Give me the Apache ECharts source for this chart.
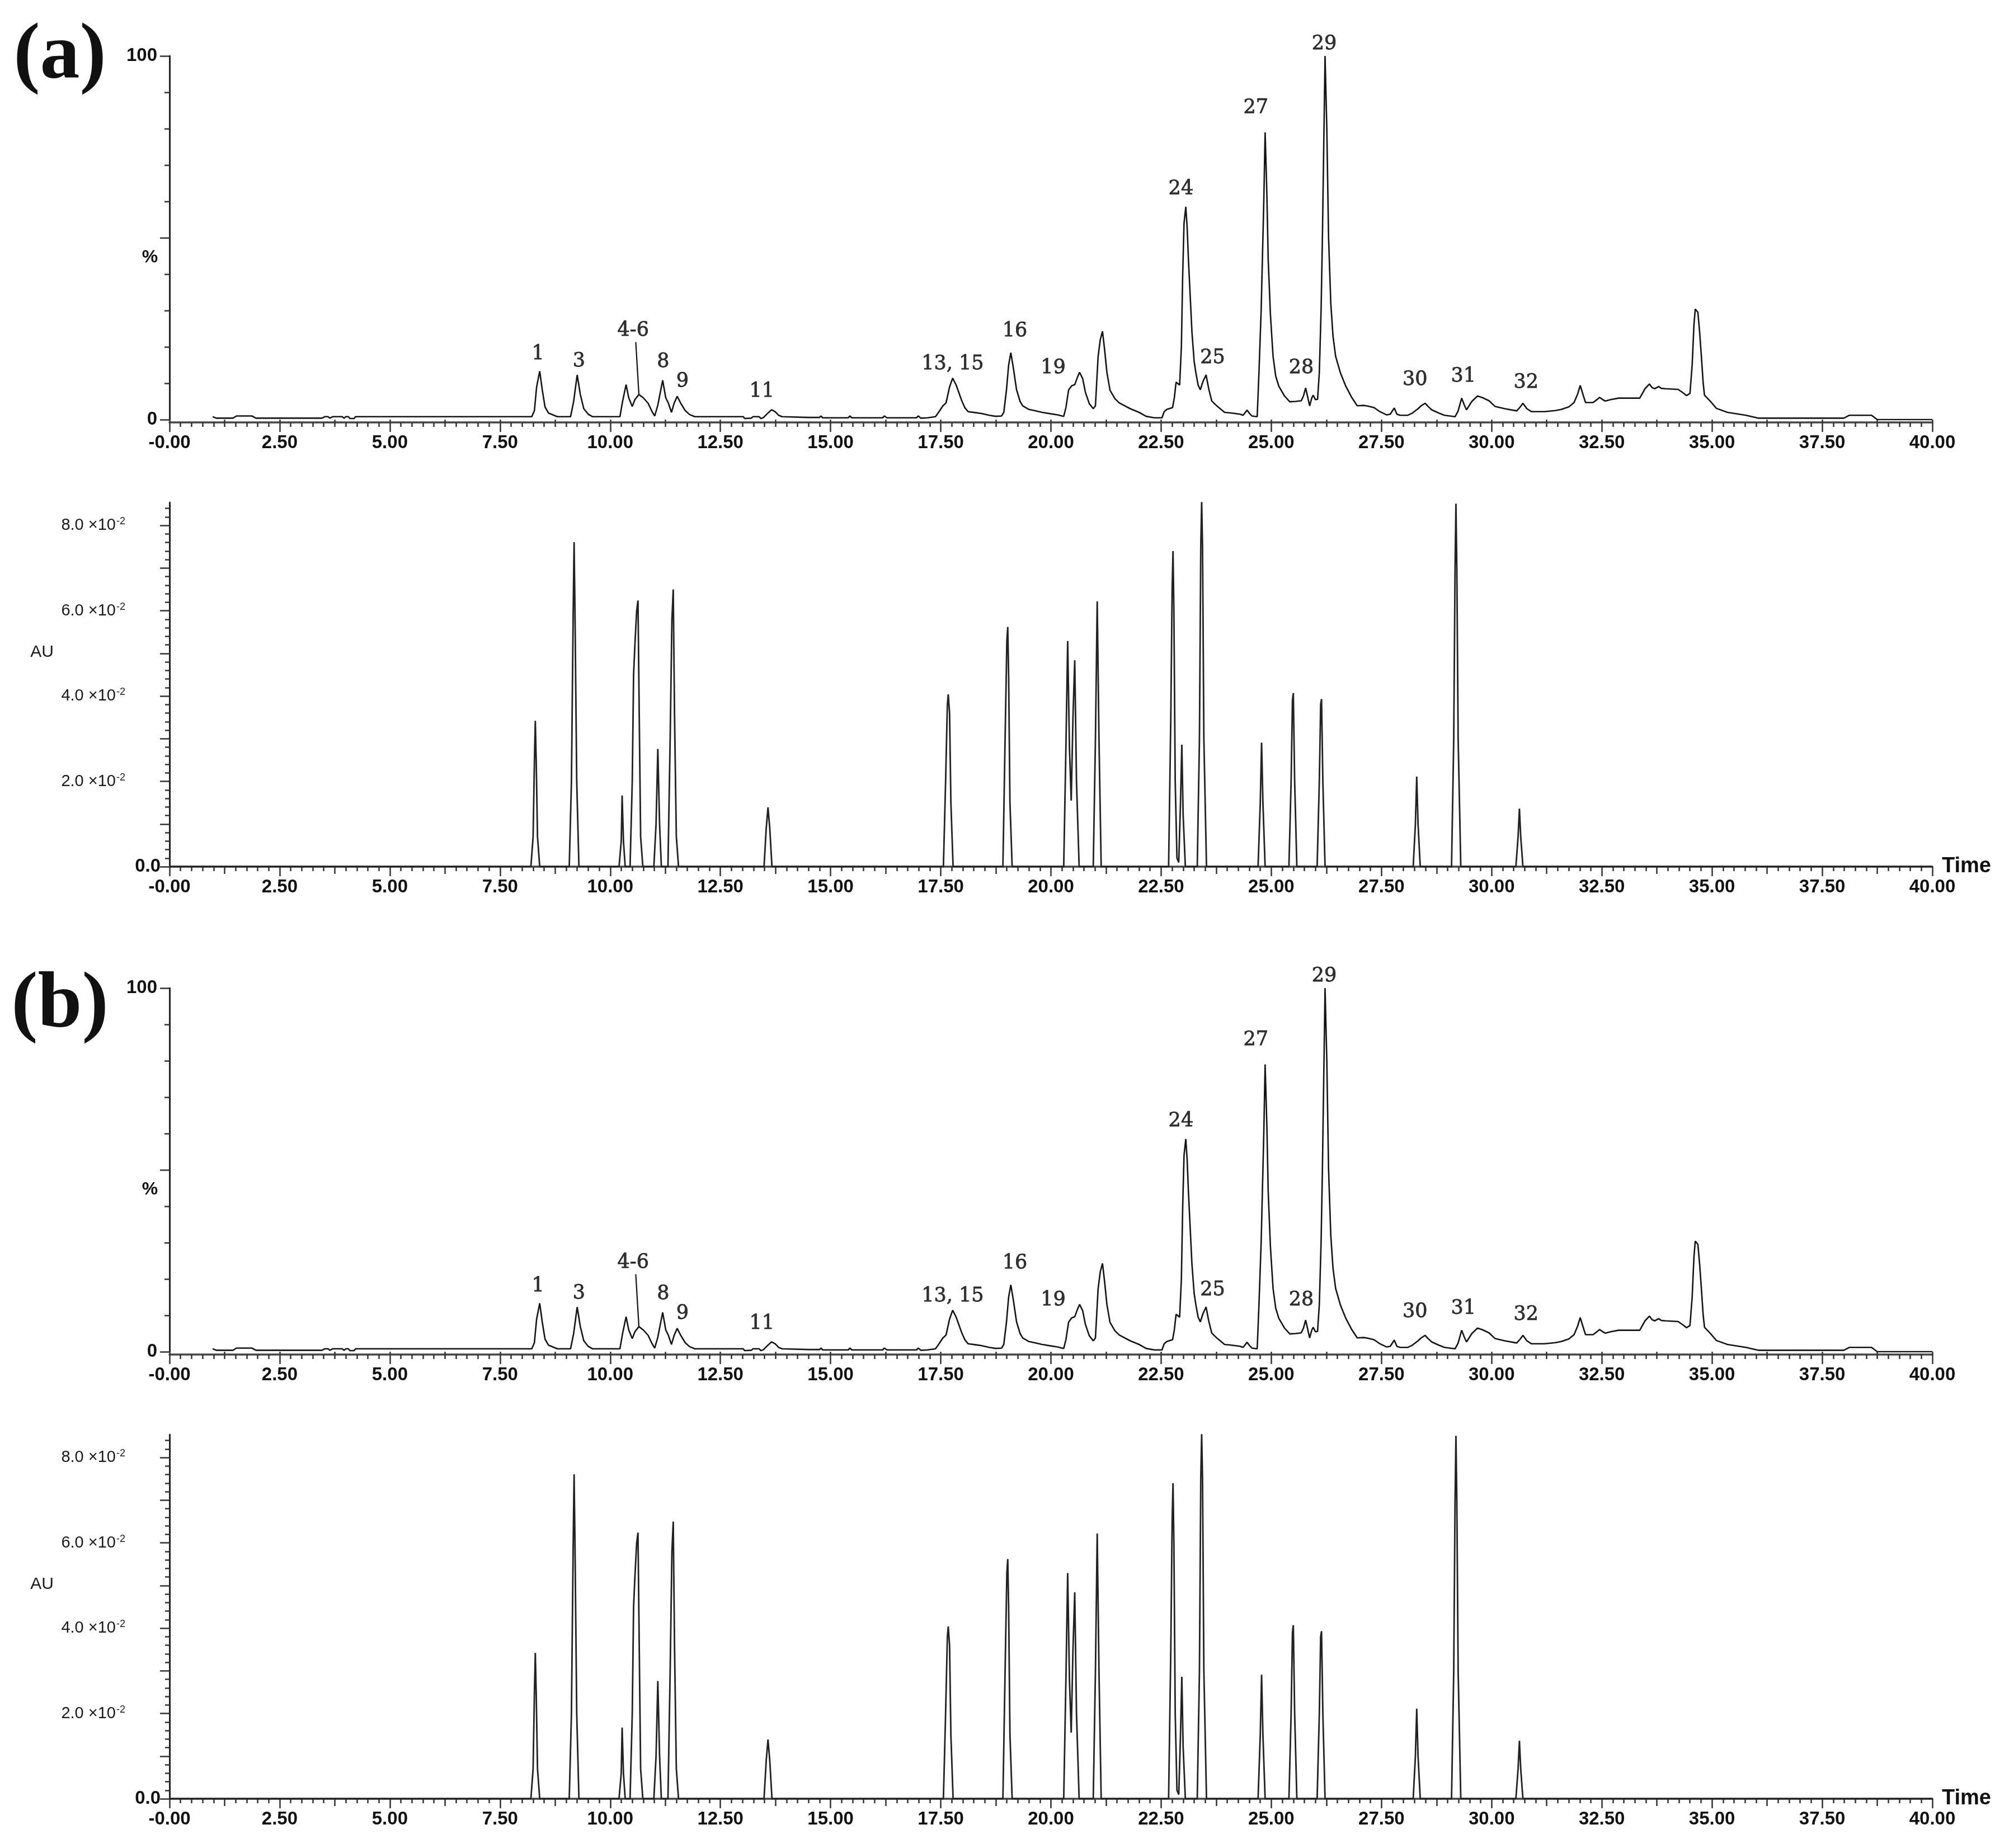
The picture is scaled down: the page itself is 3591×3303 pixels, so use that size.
<!DOCTYPE html>
<html><head><meta charset="utf-8">
<script src="https://cdn.jsdelivr.net/npm/echarts@6/dist/echarts.min.js"></script>
<style>html,body{margin:0;padding:0;background:#fff}#c{width:3591px;height:3303px}</style>
</head><body><div id="c"></div>
<script>
// ---------- DATA ----------
// MS total ion chromatogram: [time (min), relative abundance %]
const msTrace = [
[0.98,0.8],[1.06,0.4],[1.44,0.4],[1.52,1.0],[1.87,1.0],[1.96,0.4],[3.46,0.4],[3.52,0.8],[3.60,0.8],[3.64,0.4],
[3.70,0.8],[3.92,0.8],[3.96,0.4],[4.00,0.8],[4.06,0.8],[4.09,0.3],[4.19,0.3],[4.22,0.8],[8.22,0.8],
[8.28,2.5],[8.33,9],[8.40,13.3],[8.46,8],[8.52,3.5],[8.60,1.8],[8.80,0.8],
[9.10,0.8],[9.17,5],[9.25,12.3],[9.32,7],[9.40,3],[9.50,1.5],[9.60,0.8],
[10.22,0.8],[10.28,5],[10.36,9.6],[10.42,6],[10.50,3.6],[10.56,5.5],[10.65,6.9],[10.75,6.0],[10.86,4.5],
[10.95,2.2],[11.01,1.0],[11.08,4],[11.19,10.8],[11.26,6],[11.32,4.5],[11.39,2.0],[11.45,4.5],[11.52,6.4],
[11.60,4.5],[11.70,2.5],[11.80,1.4],[11.92,0.8],[13.02,0.8],[13.05,0.3],[13.20,0.4],[13.24,0.8],[13.38,0.8],
[13.42,0.3],[13.48,0.6],[13.56,1.6],[13.66,2.7],[13.74,2.2],[13.82,1.2],[13.90,0.8],
[14.50,0.6],[14.75,0.6],[14.78,1.0],[14.82,0.5],[15.40,0.5],[15.44,1.0],[15.48,0.5],[16.18,0.5],[16.22,1.0],
[16.28,0.5],[16.95,0.5],[16.99,1.0],[17.05,0.4],[17.20,0.5],[17.38,0.8],
[17.45,2.0],[17.55,3.8],[17.62,4.6],[17.70,9],[17.77,11.4],[17.85,9.5],[17.97,5.4],[18.05,3.2],[18.12,2.2],
[18.30,1.9],[18.42,1.7],[18.60,1.2],[18.75,0.9],[18.88,1.0],
[18.93,2.0],[18.99,8],[19.04,15],[19.09,18.4],[19.15,14],[19.22,8.2],[19.30,5.0],[19.36,3.8],[19.50,2.8],
[19.62,2.5],[19.80,2.0],[20.00,1.6],[20.15,1.3],[20.29,0.9],
[20.34,3.3],[20.40,8.1],[20.47,9.3],[20.54,9.6],[20.60,11.6],[20.65,13.0],[20.72,11.3],[20.78,7.6],[20.87,4.4],
[20.96,3.0],[21.01,3.8],[21.07,17.3],[21.12,22],[21.17,24.3],[21.22,19],[21.27,13.0],[21.34,8.1],[21.45,5.8],
[21.55,4.6],[21.80,3.0],[22.00,2.0],[22.16,0.9],[22.35,0.5],[22.52,0.5],
[22.57,2.2],[22.63,2.8],[22.76,3.3],[22.80,6],[22.84,10.3],[22.92,9.5],[22.96,20],[22.99,40],[23.02,54],
[23.06,58.5],[23.09,53],[23.12,44],[23.16,34],[23.20,24],[23.25,16],[23.29,12.8],[23.34,9.5],[23.39,8.2],
[23.45,10.5],[23.52,12.3],[23.58,8.5],[23.65,5.1],[23.78,3.6],[23.94,2.0],[24.10,1.8],[24.29,1.5],[24.36,1.2],
[24.45,2.6],[24.50,1.8],[24.56,1.0],[24.68,0.8],
[24.72,12.8],[24.77,30],[24.80,45],[24.83,60],[24.86,79],[24.90,62],[24.93,44],[24.98,29],[25.04,17.4],
[25.10,12],[25.17,9.2],[25.30,6.5],[25.42,4.9],[25.55,5.0],[25.68,5.2],[25.73,6.5],[25.78,8.7],[25.83,6],
[25.87,3.8],[25.92,6],[25.95,6.7],[26.00,5.5],[26.05,5.6],[26.09,13],
[26.13,30],[26.16,50],[26.19,75],[26.22,100],[26.26,80],[26.30,50],[26.35,32],[26.40,23],[26.46,17.4],
[26.57,12.8],[26.69,9.2],[26.82,6.2],[26.95,3.8],[27.10,3.9],[27.20,3.7],[27.33,3.3],[27.45,2.3],[27.62,1.3],
[27.70,1.5],[27.79,3.2],[27.85,1.5],[27.92,1.2],[28.10,1.2],[28.20,1.8],[28.33,3.0],[28.40,3.8],[28.49,4.5],
[28.56,3.6],[28.64,2.7],[28.80,1.8],[28.93,1.2],[29.17,0.8],[29.24,2.4],[29.32,5.9],[29.38,4],[29.43,2.7],
[29.55,5.0],[29.68,6.5],[29.80,6.0],[29.94,5.2],[30.08,3.6],[30.30,3.0],[30.57,2.4],[30.65,3.5],[30.71,4.5],
[30.80,3.0],[30.90,2.2],[31.20,2.2],[31.45,2.5],[31.58,2.8],[31.75,3.5],[31.87,4.7],[31.95,7],[32.01,9.4],
[32.07,7],[32.13,4.7],[32.30,4.7],[32.40,5.6],[32.45,6.1],[32.52,5.5],[32.58,5.1],[32.70,5.5],[32.88,5.9],
[33.36,5.9],[33.48,8.5],[33.58,9.8],[33.64,8.8],[33.70,8.5],[33.79,9.1],[33.85,8.6],[33.94,8.5],[34.23,8.3],
[34.35,7.3],[34.42,6.6],[34.50,7.2],[34.55,15],[34.59,26],[34.62,30.4],[34.68,29.5],[34.72,24],[34.76,17.2],
[34.80,10],[34.83,6.7],[34.95,5.2],[35.10,3.1],[35.35,2.0],[35.77,1.2],[36.06,0.4],[37.99,0.4],[38.12,1.2],
[38.62,1.2],[38.75,0.0],[40.00,0.0]
];

// UV chromatogram: [time (min), absorbance AU]
const uvTrace = [
[0,0],[8.20,0],[8.25,0.007],[8.28,0.025],[8.30,0.0342],[8.32,0.025],[8.35,0.007],[8.40,0],
[9.07,0],[9.12,0.02],[9.16,0.06],[9.18,0.0761],[9.20,0.06],[9.24,0.02],[9.29,0],
[10.20,0],[10.25,0.006],[10.27,0.0167],[10.30,0.006],[10.34,0],
[10.45,0],[10.50,0.02],[10.53,0.045],[10.56,0.052],[10.60,0.060],[10.63,0.0624],[10.66,0.034],[10.69,0.007],[10.74,0],
[10.99,0],[11.04,0.01],[11.08,0.0276],[11.12,0.01],[11.16,0],
[11.31,0],[11.36,0.03],[11.40,0.058],[11.43,0.065],[11.46,0.035],[11.50,0.007],[11.55,0],
[13.49,0],[13.54,0.009],[13.58,0.0139],[13.62,0.009],[13.67,0],
[17.56,0],[17.61,0.02],[17.65,0.038],[17.67,0.0404],[17.70,0.036],[17.73,0.015],[17.78,0],
[18.91,0],[18.96,0.03],[19.00,0.053],[19.02,0.0562],[19.04,0.045],[19.07,0.015],[19.12,0],
[20.29,0],[20.34,0.028],[20.38,0.0529],[20.42,0.028],[20.46,0.0155],[20.50,0.035],[20.54,0.0484],[20.58,0.02],[20.64,0],
[20.96,0],[21.01,0.03],[21.05,0.0622],[21.09,0.03],[21.14,0],
[22.67,0],[22.72,0.035],[22.75,0.065],[22.77,0.074],[22.79,0.06],[22.82,0.02],[22.86,0.002],[22.90,0.001],
[22.94,0.015],[22.97,0.0286],[23.00,0.012],[23.05,0],
[23.32,0],[23.37,0.03],[23.40,0.075],[23.42,0.0855],[23.44,0.075],[23.47,0.03],[23.53,0],
[24.70,0],[24.75,0.015],[24.78,0.0291],[24.81,0.015],[24.86,0],
[25.40,0],[25.45,0.02],[25.48,0.039],[25.50,0.0407],[25.53,0.02],[25.58,0],
[26.04,0],[26.09,0.02],[26.12,0.038],[26.14,0.0393],[26.17,0.02],[26.22,0],
[28.22,0],[28.27,0.01],[28.30,0.0211],[28.33,0.01],[28.38,0],
[29.09,0],[29.14,0.03],[29.17,0.07],[29.19,0.0851],[29.21,0.07],[29.24,0.03],[29.30,0],
[30.55,0],[30.60,0.007],[30.63,0.0136],[30.66,0.007],[30.71,0],
[40,0]
];

// Peak labels of the MS trace and the (time, %) spot each label is centred on
const peakNames  = ['1','3','4-6','8','9','11','13, 15','16','19','24','25','27','28','29','30','31','32'];
const peakTimes  = [8.36,9.29,10.52,11.20,11.64,13.44,17.77,19.18,20.05,22.95,23.67,24.65,25.68,26.20,28.26,29.36,30.78];
const peakLevels = [18.0,16.0,24.4,15.9,10.5,7.7,15.2,24.3,14.1,63.4,17.0,85.7,14.1,103.2,11.0,11.8,10.2];
// leader line from the "4-6" label down to its peak: [time, %]
const leader46 = [[10.58,21.3],[10.65,7.0]];

// Tick labels
const xTickLabels = ['-0.00','2.50','5.00','7.50','10.00','12.50','15.00','17.50','20.00','22.50','25.00',
  '27.50','30.00','32.50','35.00','37.50','40.00'];
const msYTickValues = [0, 100];
const msYTickLabels = ['0', '100'];
const uvMajorTicks = [0,0.01,0.02,0.03,0.04,0.05,0.06,0.07,0.08];
const uvMinorTicks = [0,0.002,0.004,0.006,0.008,0.01,0.012,0.014,0.016,0.018,0.02,0.022,0.024,0.026,0.028,0.03,
  0.032,0.034,0.036,0.038,0.04,0.042,0.044,0.046,0.048,0.05,0.052,0.054,0.056,0.058,0.06,0.062,0.064,0.066,0.068,
  0.07,0.072,0.074,0.076,0.078,0.08,0.082,0.084];
const uvLabelValues = [0, 0.02, 0.04, 0.06, 0.08];
const uvLabelMantissa = ['0.0', '2.0', '4.0', '6.0', '8.0'];
const panelTags = ['(a)', '(b)'];

// ---------- LAYOUT / STYLE ----------
const chart = echarts.init(document.getElementById('c'), null, {renderer: 'canvas', width: 3591, height: 3303});
const L = 303, W = 3151, PANEL_DY = 1666;
const INK = '#111';
const tickFont = {fontFamily: 'Liberation Sans, Arial, sans-serif', fontWeight: 'bold', fontSize: 33, color: INK};

const grids = [], xAxes = [], yAxes = [], series = [], graphics = [];

function xAxisPair(g, off, withName) {
  const main = {
    type: 'value', gridIndex: g, min: 0, max: 40, interval: 2.5, position: 'bottom', offset: off,
    axisLine: {show: true, onZero: false, lineStyle: {color: '#444', width: 3.5}},
    axisTick: {show: true, inside: false, length: 17, lineStyle: {color: '#333', width: 2.5}},
    minorTick: {show: true, splitNumber: 10, length: 8, lineStyle: {color: '#333', width: 2.5}},
    splitLine: {show: false}, minorSplitLine: {show: false},
    axisLabel: Object.assign({show: true, margin: 20, formatter: v => xTickLabels[Math.round(v / 2.5)]}, tickFont)
  };
  if (withName) {
    main.name = 'Time';
    main.nameLocation = 'end';
    main.nameGap = 17;
    main.nameTextStyle = {fontFamily: 'Liberation Sans, Arial, sans-serif', fontWeight: 'bold', fontSize: 38,
      color: INK, verticalAlign: 'middle', padding: [8, 0, 0, 0]};
  }
  const mid = {
    type: 'value', gridIndex: g, min: 0, max: 40, interval: 1.25, position: 'bottom', offset: off,
    axisLine: {show: false}, axisLabel: {show: false}, splitLine: {show: false},
    axisTick: {show: true, inside: false, length: 13, lineStyle: {color: '#333', width: 2.5}}
  };
  return [main, mid];
}

function addPanel(p) {
  const dy = p * PANEL_DY;
  // --- MS panel ---
  const gMS = grids.length;
  grids.push({left: L, top: 100 + dy, width: W, height: 650, outerBoundsMode: 'none'});
  const xMS = xAxes.length;
  xAxes.push(...xAxisPair(gMS, 5, false));
  const yMS = yAxes.length;
  yAxes.push({
    type: 'value', gridIndex: gMS, min: 0, max: 100, interval: 50, position: 'left',
    axisLine: {show: true, lineStyle: {color: '#222', width: 3}},
    axisTick: {show: true, length: 17, lineStyle: {color: '#333', width: 2.5}},
    minorTick: {show: true, splitNumber: 5, length: 9, lineStyle: {color: '#333', width: 2.5}},
    splitLine: {show: false}, minorSplitLine: {show: false},
    axisLabel: Object.assign({margin: 22, formatter: v => {
      const i = msYTickValues.indexOf(v); return i >= 0 ? msYTickLabels[i] : '';
    }}, tickFont)
  });
  // --- UV panel ---
  const gUV = grids.length;
  grids.push({left: L, top: 898 + dy, width: W, height: 651, outerBoundsMode: 'none'});
  const xUV = xAxes.length;
  xAxes.push(...xAxisPair(gUV, 0, true));
  const yUV = yAxes.length;
  yAxes.push({
    type: 'value', gridIndex: gUV, min: 0, max: 0.0854, interval: 0.01, position: 'left',
    axisLine: {show: true, onZero: false, lineStyle: {color: '#222', width: 3}},
    axisTick: {show: true, length: 17, customValues: uvMajorTicks, lineStyle: {color: '#333', width: 2.5}},
    splitLine: {show: false},
    axisLabel: {
      margin: 16, customValues: uvLabelValues,
      formatter: v => {
        const i = uvLabelValues.findIndex(u => Math.abs(u - v) < 1e-9);
        if (i < 0) return '';
        if (i === 0) return '{z|' + uvLabelMantissa[0] + '}';
        return '{n|' + uvLabelMantissa[i] + ' \u00d710}{s|-2}';
      },
      rich: {
        z: {fontFamily: 'Liberation Sans, Arial, sans-serif', fontWeight: 'bold', fontSize: 33, color: INK},
        n: {fontFamily: 'Liberation Sans, Arial, sans-serif', fontSize: 29, color: '#1a1a1a', lineHeight: 32},
        s: {fontFamily: 'Liberation Sans, Arial, sans-serif', fontSize: 18, color: '#1a1a1a', verticalAlign: 'top',
            lineHeight: 20, padding: [0, 63, 0, 1]}
      }
    }
  });
  yAxes.push({
    type: 'value', gridIndex: gUV, min: 0, max: 0.0854, interval: 0.002, position: 'left',
    axisLine: {show: false}, axisLabel: {show: false}, splitLine: {show: false},
    axisTick: {show: true, length: 8, customValues: uvMinorTicks, lineStyle: {color: '#333', width: 2.5}}
  });

  // --- series ---
  series.push({
    type: 'line', xAxisIndex: xMS, yAxisIndex: yMS, data: msTrace, showSymbol: false, symbol: 'none',
    lineStyle: {color: '#141414', width: 2.6}, animation: false, z: 3,
    markLine: {
      silent: true, symbol: ['none', 'none'], animation: false,
      lineStyle: {color: '#111', width: 2.2, type: 'solid'}, label: {show: false},
      data: [[{coord: leader46[0]}, {coord: leader46[1]}]]
    }
  });
  series.push({
    type: 'scatter', xAxisIndex: xMS, yAxisIndex: yMS, symbolSize: 1, clip: false, animation: false,
    itemStyle: {color: 'rgba(0,0,0,0)'}, silent: true, z: 5,
    data: peakNames.map((n, i) => ({name: n, value: [peakTimes[i], peakLevels[i]]})),
    label: {show: true, position: 'inside', formatter: '{b}', fontFamily: 'DejaVu Serif, Liberation Serif, serif',
      fontSize: 35, color: '#000', textBorderColor: '#000', textBorderWidth: 0.8}
  });
  series.push({
    type: 'line', xAxisIndex: xUV, yAxisIndex: yUV, data: uvTrace, showSymbol: false, symbol: 'none',
    lineStyle: {color: '#222', width: 2.8}, animation: false, z: 3
  });

  // --- text ---
  graphics.push({type: 'text', x: 107, y: 102 + dy + (p ? 30 : 0), z: 10,
    style: {text: panelTags[p], font: 'bold 142px "Liberation Serif", "Times New Roman", serif',
      fill: '#111', textAlign: 'center', textVerticalAlign: 'middle'}});
  graphics.push({type: 'text', x: 268, y: 460 + dy, z: 10,
    style: {text: '%', font: 'bold 32px "Liberation Sans", Arial, sans-serif', fill: INK,
      textAlign: 'center', textVerticalAlign: 'middle'}});
  graphics.push({type: 'text', x: 75, y: 1166 + dy, z: 10,
    style: {text: 'AU', font: '30px "Liberation Sans", Arial, sans-serif', fill: '#1a1a1a',
      textAlign: 'center', textVerticalAlign: 'middle'}});
}

addPanel(0);
addPanel(1);

chart.setOption({
  backgroundColor: '#ffffff',
  animation: false,
  grid: grids,
  xAxis: xAxes,
  yAxis: yAxes,
  series: series,
  graphic: graphics
});
</script>
</body></html>
